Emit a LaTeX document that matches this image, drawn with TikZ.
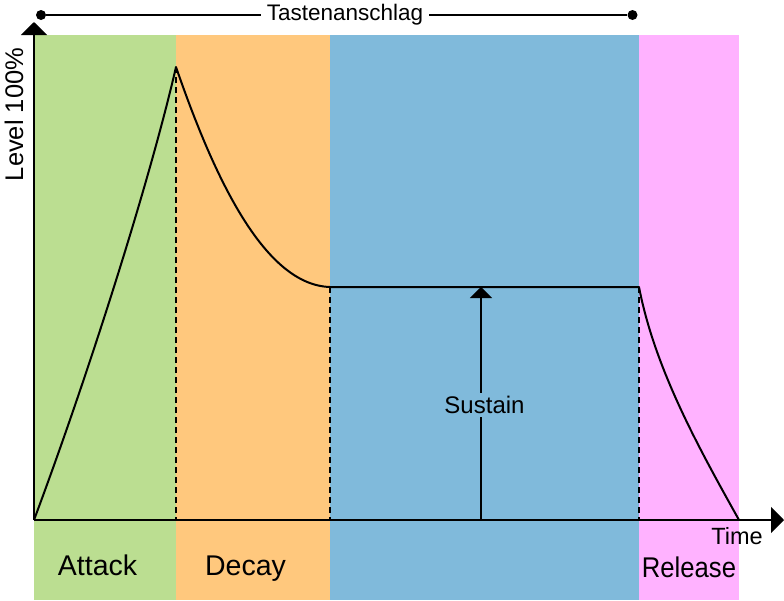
\documentclass[tikz,border=0pt]{standalone}
\usepackage{fontspec}
\setmainfont{Liberation Sans}
\usetikzlibrary{arrows.meta}
\definecolor{cgreen}{RGB}{187,222,145}
\definecolor{corange}{RGB}{255,200,125}
\definecolor{cblue}{RGB}{128,186,219}
\definecolor{cpink}{RGB}{255,178,255}
\begin{document}
\begin{tikzpicture}[x=1pt,y=-1pt,
  curve/.style={line width=2pt},
  axis/.style={line width=2pt,-{Triangle[width=26pt,length=13pt]}},
  guide/.style={line width=1.4pt,dash pattern=on 6pt off 4pt},
  lbl/.style={inner sep=0pt,anchor=base,font=\fontsize{28.5}{30}\selectfont},
  dotmark/.style={circle,fill=black,inner sep=0pt,minimum size=10pt}]
\useasboundingbox (0,0) rectangle (784,600);
% bands
\fill[cgreen] (34,35) rectangle (176,600);
\fill[corange] (176,35) rectangle (330,600);
\fill[cblue] (330,35) rectangle (639,600);
\fill[cpink] (639,35) rectangle (739,600);
% key points
\coordinate (o) at (34,520);
\coordinate (peak) at (176,67);
\coordinate (peakb) at (176,520);
\coordinate (s1) at (330,287);
\coordinate (s1b) at (330,520);
\coordinate (s2) at (639,287);
\coordinate (s2b) at (639,520);
\coordinate (rel) at (739,520);
\coordinate (sa) at (481,287);
\coordinate (sab) at (481,520);
\coordinate (ytop) at (34,22);
\coordinate (xend) at (784,520);
% guides
\draw[guide] (peak) -- (peakb);
\draw[guide] (s1) -- (s1b);
\draw[guide] (s2) -- (s2b);
% envelope
\draw[curve,line join=round] (o) .. controls (90,370) and (150,180) .. (peak)
  .. controls (215,180) and (265,285) .. (s1) -- (s2)
  .. controls (655,370) and (700,450) .. (rel);
% axes
\draw[axis] (o) -- (ytop);
\draw[axis] (o) -- (xend);
% sustain arrow
\draw[line width=2pt,-{Triangle[width=22pt,length=11pt]}] (sab) -- (sa);
\node[fill=cblue,inner sep=3pt,font=\fontsize{24}{26}\selectfont] (sus) at (484.5,405) {Sustain};
% top bracket
\node[dotmark] (d1) at (41,15) {};
\node[dotmark] (d2) at (632.5,15) {};
\node[inner sep=0pt,font=\fontsize{22.5}{24}\selectfont] (tast) at (345,15) {Tastenanschlag};
\draw[line width=1.5pt] (d1) -- ([xshift=-6pt]tast.west);
\draw[line width=1.5pt] ([xshift=6pt]tast.east) -- (d2);
% labels
\node[rotate=90,inner sep=0pt,font=\fontsize{25.5}{27}\selectfont] (lev) at (14,114.5) {Level 100\%};
\node[inner sep=0pt,anchor=base,font=\fontsize{23.5}{25}\selectfont] (time) at (737,544) {Time};
\node[lbl] (att) at (97.5,575) {Attack};
\node[lbl] (dec) at (245.5,575) {Decay};
\node[lbl,xscale=0.9] (rls) at (689,577) {Release};
\end{tikzpicture}
\end{document}
